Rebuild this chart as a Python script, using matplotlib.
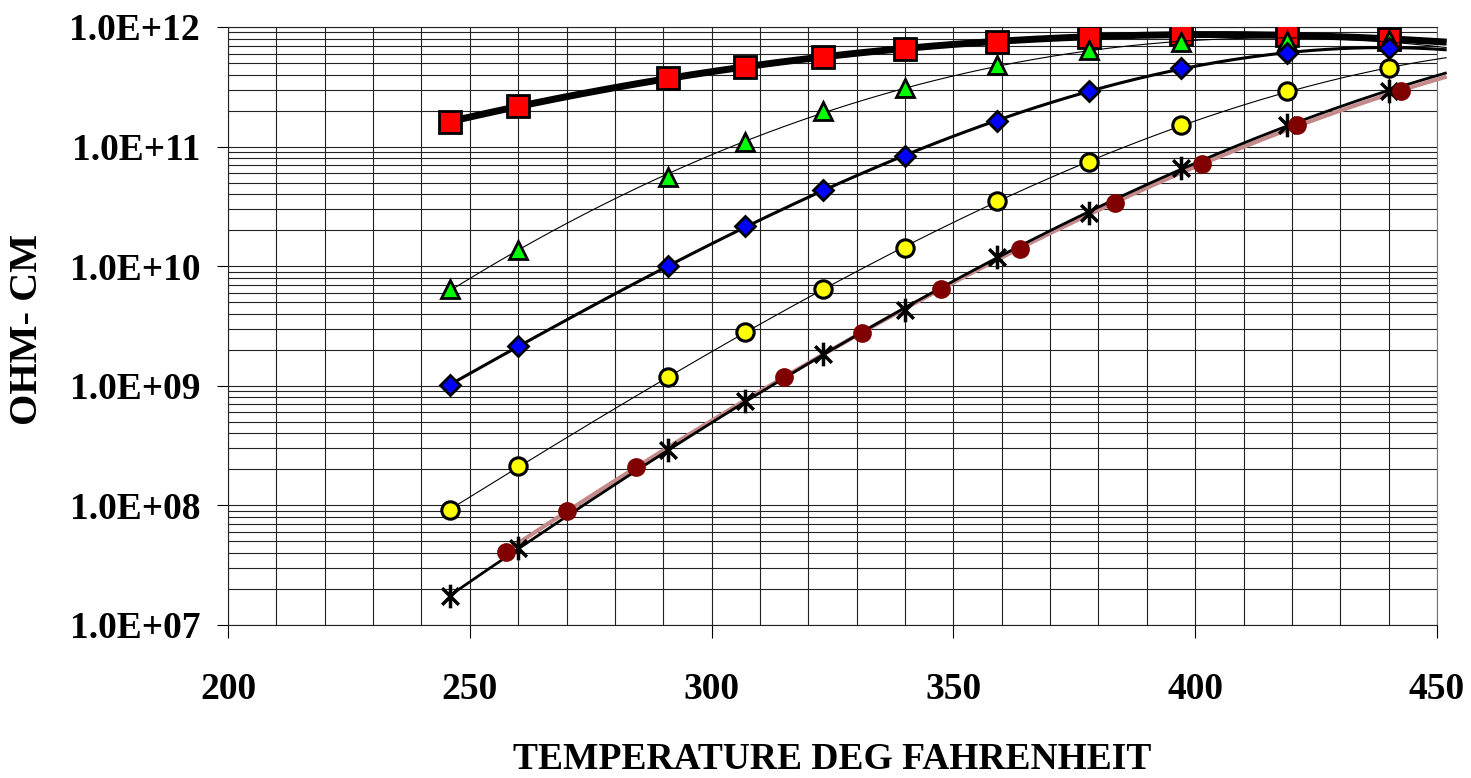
import numpy as np
import matplotlib
matplotlib.use("Agg")
import matplotlib.pyplot as plt
from matplotlib.path import Path
from matplotlib.ticker import LogLocator, MultipleLocator, NullFormatter

plt.rcParams['font.family'] = ['Liberation Serif', 'DejaVu Serif']
plt.rcParams['font.weight'] = 'bold'

# temperatures (deg F) shared by most of the series
temp = [246, 260, 291, 307, 323, 340, 359, 378, 397, 419, 440]
# the last series was measured at its own temperatures
temp_b = [257.5, 270, 284.4, 315, 331, 347.4, 363.7, 383.4, 401.4, 421, 442.5]

squares = [1.6e11, 2.2e11, 3.76e11, 4.6e11, 5.6e11, 6.6e11, 7.5e11, 8.3e11, 8.7e11, 8.6e11, 7.9e11]
triangles = [6.4e9, 1.36e10, 5.6e10, 1.1e11, 2.0e11, 3.1e11, 4.8e11, 6.4e11, 7.5e11, 7.6e11, 7.8e11]
diamonds = [1.02e9, 2.15e9, 1.0e10, 2.15e10, 4.3e10, 8.3e10, 1.65e11, 2.9e11, 4.5e11, 6.1e11, 6.7e11]
circles = [9.1e7, 2.15e8, 1.19e9, 2.8e9, 6.4e9, 1.41e10, 3.5e10, 7.4e10, 1.52e11, 2.9e11, 4.5e11]
stars = [1.75e7, 4.4e7, 2.9e8, 7.4e8, 1.85e9, 4.3e9, 1.19e10, 2.77e10, 6.6e10, 1.52e11, 2.9e11]
dots = [4.1e7, 8.9e7, 2.1e8, 1.19e9, 2.77e9, 6.4e9, 1.39e10, 3.4e10, 7.2e10, 1.52e11, 2.9e11]

# asterisk marker: vertical bar plus an X
a = 0.7071
star_path = Path([(0, -1), (0, 1), (-a, -a), (a, a), (-a, a), (a, -a)],
                 [Path.MOVETO, Path.LINETO] * 3)


def trend(ax, x, y, **kw):
    # smooth trend line in log space, run a little past the last point like the original
    c = np.polyfit(x, np.log10(y), 3)
    xs = np.linspace(x[0], 452, 300)
    ax.plot(xs, 10 ** np.polyval(c, xs), clip_on=False, solid_capstyle='butt', **kw)


fig = plt.figure(figsize=(14.71, 7.78), dpi=100)
ax = fig.add_axes([0.155, 0.1967, 0.8219, 0.7686])

trend(ax, temp, squares, color='black', lw=5, zorder=3)
ax.plot(temp, squares, ls='none', marker='s', ms=16.5, mfc='#FF0000', mec='black', mew=2, zorder=4)

trend(ax, temp, triangles, color='black', lw=0.8, zorder=5)
ax.plot(temp, triangles, ls='none', marker='^', ms=12.5, mfc='#00FF00', mec='black', mew=2, zorder=6)

trend(ax, temp, diamonds, color='black', lw=2.2, zorder=7)
ax.plot(temp, diamonds, ls='none', marker='D', ms=10, mfc='#0000FF', mec='black', mew=2, zorder=8)

trend(ax, temp, circles, color='black', lw=0.8, zorder=5)
ax.plot(temp, circles, ls='none', marker='o', ms=12.5, mfc='#FFFF00', mec='black', mew=2.2, zorder=6)

trend(ax, temp_b, dots, color='#C48A8A', lw=3, zorder=3)
trend(ax, temp, stars, color='black', lw=2, zorder=4)
ax.plot(temp, stars, ls='none', marker=star_path, ms=17, mec='black', mew=2.5, zorder=6)
ax.plot(temp_b, dots, ls='none', marker='o', ms=13.5, mfc='#800000', mec='none', zorder=7)

ax.set_xlim(200, 450)
ax.set_yscale('log')
ax.set_ylim(1e7, 1e12)

ax.xaxis.set_major_locator(MultipleLocator(50))
ax.xaxis.set_minor_locator(MultipleLocator(10))
ax.yaxis.set_minor_locator(LogLocator(base=10, subs=np.arange(2, 10), numticks=20))
ax.yaxis.set_minor_formatter(NullFormatter())
ax.set_yticks([1e7, 1e8, 1e9, 1e10, 1e11, 1e12])
ax.set_yticklabels(['1.0E+07', '1.0E+08', '1.0E+09', '1.0E+10', '1.0E+11', '1.0E+12'])

ax.grid(which='both', axis='both', color='#222222', lw=0.8)
ax.set_axisbelow(True)

ax.tick_params(axis='y', which='major', direction='out', length=8, width=0.8, pad=12, labelsize=27)
ax.tick_params(axis='x', which='major', direction='out', length=9, width=0.8, pad=25, labelsize=27)
ax.tick_params(which='minor', length=0)

for s in ax.spines.values():
    s.set_linewidth(0.8)
    s.set_color('#222222')
ax.spines['right'].set_color('#777777')

ax.set_xlabel('TEMPERATURE DEG FAHRENHEIT', fontsize=27, fontweight='bold', labelpad=25)
fig.text(0.019, 0.577, 'OHM- CM', rotation=90, fontsize=29, fontweight='bold', ha='center', va='center')

fig.savefig('out.png', dpi=100)
